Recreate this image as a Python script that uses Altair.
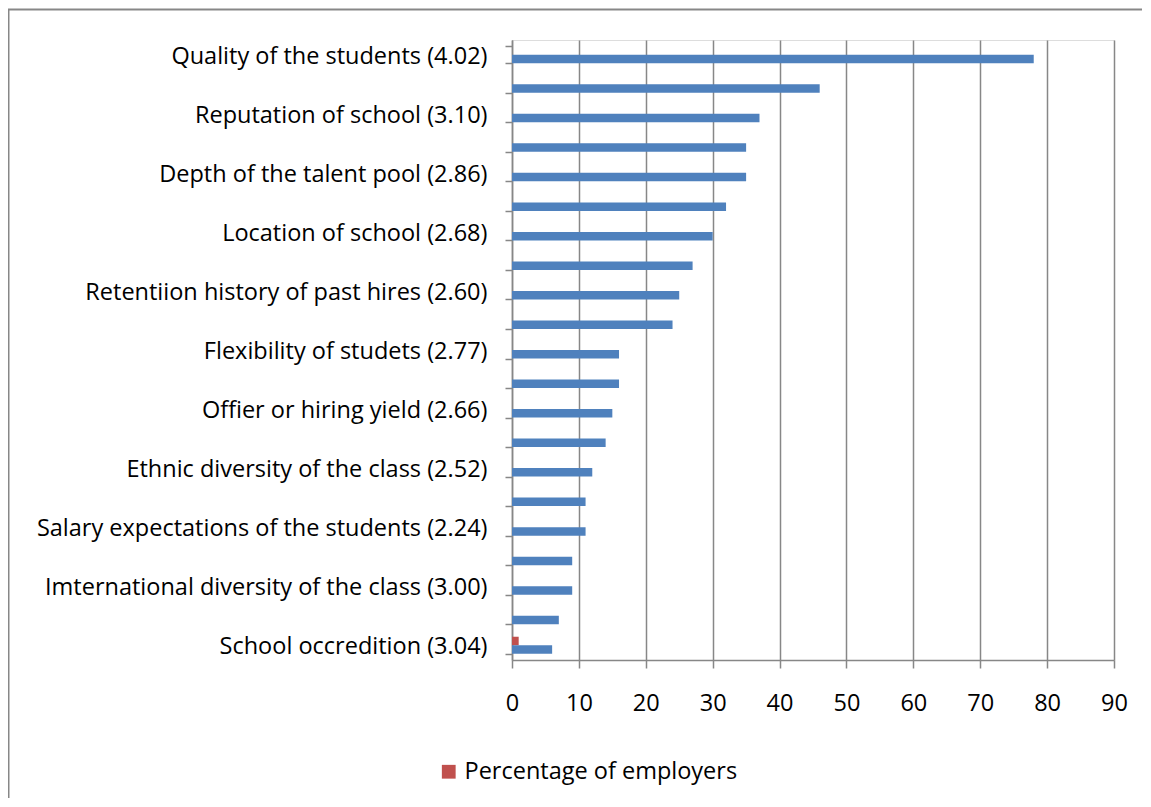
import json
import altair as alt
import pandas as pd

# ---- data (top to bottom) ----
category_labels = [
    "Quality of the students (4.02)", "",
    "Reputation of school (3.10)", "",
    "Depth of the talent pool (2.86)", "",
    "Location of school (2.68)", "",
    "Retentiion history of past hires (2.60)", "",
    "Flexibility of studets (2.77)", "",
    "Offier or hiring yield (2.66)", "",
    "Ethnic diversity of the class (2.52)", "",
    "Salary expectations of the students (2.24)", "",
    "Imternational diversity of the class (3.00)", "",
    "School occredition (3.04)",
]
blue_values = [78, 46, 37, 35, 35, 32, 30, 27, 25, 24, 16, 16, 15, 14, 12, 11, 11, 9, 9, 7, 6]
red_values = [0, 0, 0, 0, 0, 0, 0, 0, 0, 0, 0, 0, 0, 0, 0, 0, 0, 0, 0, 0, 1]
series_names = ["Percentage of employers", "Series 1"]
series_colors = ["#C0504D", "#4F81BD"]
x_ticks = [0, 10, 20, 30, 40, 50, 60, 70, 80, 90]

rows = []
for i in range(len(category_labels)):
    rows.append({"idx": i, "series": series_names[0], "value": red_values[i]})
    rows.append({"idx": i, "series": series_names[1], "value": blue_values[i]})
df = pd.DataFrame(rows)

FONT = "Open Sans"
FS = 23.5
label_expr = json.dumps(category_labels) + "[datum.value]"

bars = alt.Chart(df).mark_bar().encode(
    x=alt.X(
        "value:Q",
        scale=alt.Scale(domain=[0, 90], nice=False),
        axis=alt.Axis(
            values=x_ticks, title=None, grid=True, gridColor="#878787", gridWidth=1.5,
            domainColor="#878787", domainWidth=1.5, tickColor="#878787", tickWidth=1.5,
            tickSize=8, labelPadding=23, labelFontSize=FS, labelFont=FONT,
            labelColor="#000000", labelFlush=False, labelOverlap=False,
        ),
    ),
    y=alt.Y(
        "idx:O",
        sort="ascending",
        scale=alt.Scale(paddingInner=0.424, paddingOuter=0.212),
        axis=alt.Axis(
            title=None, labelExpr=label_expr, tickBand="extent", grid=False,
            domainColor="#878787", domainWidth=1.5, tickColor="#878787", tickWidth=1.5,
            tickSize=7, labelPadding=18, labelFontSize=FS, labelFont=FONT,
            labelColor="#000000", labelLimit=700, labelOffset=1.5,
        ),
    ),
    yOffset=alt.YOffset(
        "series:N", sort=series_names,
        scale=alt.Scale(paddingInner=0, paddingOuter=0),
    ),
    color=alt.Color(
        "series:N",
        scale=alt.Scale(domain=series_names, range=series_colors),
        legend=alt.Legend(
            values=[series_names[0]], title=None, orient="none",
            legendX=-75, legendY=720, symbolType="square", symbolSize=190,
            symbolStrokeWidth=0, labelFontSize=FS, labelFont=FONT,
            labelColor="#000000", labelOffset=4, labelLimit=700,
        ),
    ),
)

frame = alt.Chart(pd.DataFrame({"k": [0]})).mark_rect(
    fill=None, stroke="#878787", strokeWidth=2, clip=False
).encode(
    x=alt.value(-503.5), x2=alt.value(1400), y=alt.value(-30.5), y2=alt.value(1000)
)

chart = alt.layer(frame, bars).properties(
    width=602, height=620,
    autosize=alt.AutoSizeParams(type="none"),
    padding={"left": 504, "top": 32, "right": 28, "bottom": 138},
).configure_view(stroke=None).configure(background="white")

chart.save("out.html", embed_options={"renderer": "svg", "actions": False})
